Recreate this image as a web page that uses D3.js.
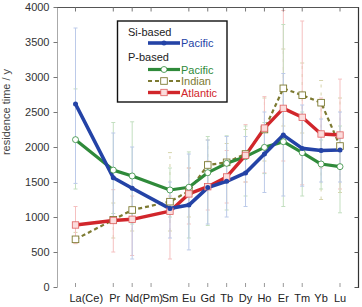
<!DOCTYPE html>
<html><head><meta charset="utf-8">
<script src="https://cdn.jsdelivr.net/npm/d3@7"></script>
<style>body{margin:0;background:#fff}svg{display:block;font-family:"Liberation Sans",Arial,sans-serif}</style>
</head><body><svg id="c" width="362" height="307"></svg>
<script>
const categories = ["La","Ce","Pr","Nd","Pm","Sm","Eu","Gd","Tb","Dy","Ho","Er","Tm","Yb","Lu"];
const catLabels = ["La","(Ce)","Pr","Nd","(Pm)","Sm","Eu","Gd","Tb","Dy","Ho","Er","Tm","Yb","Lu"];
const tickCats = ["La","Pr","Nd","Pm","Eu","Gd","Tb","Dy","Ho","Er","Tm","Lu"];
const yTicks = [0,500,1000,1500,2000,2500,3000,3500,4000];

// values (null = no data)
const siPacific   = [2615,null,1560,1410,null,1120,1170,1420,1510,1630,1900,2170,1980,1950,1957];
const pPacific    = [2105,null,1670,1586,null,1386,1425,1633,1767,1862,1995,2076,1919,1757,1719];
const pIndian     = [681,null,960,1100,null,1219,1370,1743,1781,1900,2250,2838,2740,2633,2014];
const pAtlantic   = [886,null,950,967,null,1083,1330,1433,1572,1880,2270,2552,2424,2186,2171];

// error bars [low, high]
const siPacificErr  = [[1480,3700],null,[1000,2200],[400,2000],null,[700,1500],[530,1900],[900,2100],[1000,2150],[1150,2150],[1350,2500],[1300,3050],[1440,2600],[1500,2400],[1500,2500]];
const pPacificErr   = [[1400,2830],null,[1050,2350],[900,2360],null,[1000,1700],[700,1930],[880,2150],[1100,2160],[1300,2300],[1620,2350],[1150,3750],[1300,2500],[1400,2100],[1060,2300]];
const pIndianErr    = [[620,780],null,[700,1200],[800,1400],null,[800,1920],[1000,1700],[1400,2100],[1500,2050],[1500,2250],[1800,2700],[2300,3400],[2200,3200],[1250,2950],[1350,2700]];
const pAtlanticErr  = [[620,1150],null,[500,1390],[450,1300],null,[400,1300],[900,1700],[1100,1800],[1200,1950],[1500,2320],[1630,2720],[1800,3950],[1460,3800],[1700,2700],[1400,2970]];

const series = [
  {name:"siPacific", vals:siPacific, err:siPacificErr, color:"#2443a6", errColor:"#bccae9", width:3.6, dash:null, marker:"circleFill", errDash:null},
  {name:"pPacific", vals:pPacific, err:pPacificErr, color:"#2f8a3a", errColor:"#c3dfc0", width:3.2, dash:null, marker:"circleOpen", errDash:null},
  {name:"pAtlantic", vals:pAtlantic, err:pAtlanticErr, color:"#d1262b", errColor:"#f5c0c0", width:3.4, dash:null, marker:"square", errDash:null},
  {name:"pIndian", vals:pIndian, err:pIndianErr, color:"#7d7a32", errColor:"#d6d4ac", width:2.2, dash:"4,3", marker:"squareOpen", errDash:"3,5"}
];

const svg = d3.select("#c");
const x = d3.scalePoint().domain(categories).range([75.5,340]);
const y = d3.scaleLinear().domain([0,4000]).range([287,7]);

// error bars first
const order = ["pIndian","pAtlantic","pPacific","siPacific"];
order.forEach(nm=>{
  const s = series.find(d=>d.name===nm);
  const g = svg.append("g");
  categories.forEach((c,i)=>{
    const e = s.err[i]; if(!e) return;
    const xx = x(c);
    g.append("line").attr("x1",xx).attr("x2",xx).attr("y1",y(e[0])).attr("y2",y(e[1]))
      .attr("stroke",s.errColor).attr("stroke-width",1).attr("stroke-dasharray",s.errDash);
    [e[0],e[1]].forEach(v=>g.append("line").attr("x1",xx-2).attr("x2",xx+2).attr("y1",y(v)).attr("y2",y(v))
      .attr("stroke",s.errColor).attr("stroke-width",1));
  });
});

// frame
svg.append("line").attr("x1",57.5).attr("x2",57.5).attr("y1",7).attr("y2",287).attr("stroke","#aaa").attr("stroke-width",1);
svg.append("line").attr("x1",57).attr("x2",358.5).attr("y1",7.5).attr("y2",7.5).attr("stroke","#555").attr("stroke-width",1);
svg.append("line").attr("x1",358.5).attr("x2",358.5).attr("y1",7).attr("y2",288).attr("stroke","#333").attr("stroke-width",1.2);

// left axis
const yAxis = d3.axisLeft(y).tickValues(yTicks).tickSize(4).tickPadding(4).tickFormat(d3.format("d"));
const ga = svg.append("g").attr("transform","translate(57.5,0)").call(yAxis);
ga.select(".domain").remove();
ga.selectAll(".tick line").attr("stroke","#777");
ga.selectAll("text").attr("font-size",11).attr("fill","#333");
// right inner ticks
const gr = svg.append("g").attr("transform","translate(358.5,0)").call(d3.axisLeft(y).tickValues(yTicks).tickSize(4).tickFormat(""));
gr.select(".domain").remove();
gr.selectAll(".tick line").attr("stroke","#555");

// bottom / top ticks
const gb = svg.append("g");
tickCats.forEach(c=>{
  gb.append("line").attr("x1",x(c)).attr("x2",x(c)).attr("y1",283).attr("y2",287).attr("stroke","#999");
  gb.append("line").attr("x1",x(c)).attr("x2",x(c)).attr("y1",7.5).attr("y2",11.5).attr("stroke","#777");
});
const labelShift = {"La":0,"Ce":-2,"Pr":1.5};
categories.forEach((c,i)=>{
  svg.append("text").attr("x",x(c)+(labelShift[c]||0)).attr("y",302).attr("text-anchor","middle").attr("font-size",11).attr("fill","#222").text(catLabels[i]);
});

// y label
svg.append("text").attr("transform","translate(10,112) rotate(-90)").attr("text-anchor","middle").attr("font-size",11).attr("fill","#444").text("residence time / y");

// lines
const lineGen = d3.line().defined(d=>d.v!=null).x(d=>x(d.c)).y(d=>y(d.v));
["pIndian","pPacific","pAtlantic","siPacific"].forEach(nm=>{
  const s = series.find(d=>d.name===nm);
  const pts = categories.map((c,i)=>({c:c,v:s.vals[i]})).filter(d=>d.v!=null);
  svg.append("path").datum(pts).attr("d",lineGen).attr("fill","none").attr("stroke",s.color)
    .attr("stroke-width",s.width).attr("stroke-dasharray",s.dash).attr("stroke-linejoin","round");
});
function marker(g,s,cx,cy){
  if(s.marker==="circleFill") g.append("circle").attr("cx",cx).attr("cy",cy).attr("r",2.5).attr("fill",s.color);
  else if(s.marker==="circleOpen") g.append("circle").attr("cx",cx).attr("cy",cy).attr("r",3).attr("fill","#fff").attr("stroke",s.color).attr("stroke-width",0.8);
  else if(s.marker==="square") g.append("rect").attr("x",cx-3.2).attr("y",cy-3.2).attr("width",6.4).attr("height",6.4).attr("fill","#fbdcdc").attr("stroke","#e06060").attr("stroke-width",0.8);
  else g.append("rect").attr("x",cx-3.3).attr("y",cy-3.3).attr("width",6.6).attr("height",6.6).attr("fill","#fff").attr("stroke",s.color).attr("stroke-width",0.9);
}
["pIndian","pPacific","pAtlantic","siPacific"].forEach(nm=>{
  const s = series.find(d=>d.name===nm);
  const g = svg.append("g");
  categories.forEach((c,i)=>{ if(s.vals[i]!=null) marker(g,s,x(c),y(s.vals[i])); });
});

// legend
const lg = svg.append("g");
lg.append("rect").attr("x",117.5).attr("y",21).attr("width",109.5).attr("height",81).attr("fill","#fff").attr("stroke","#111").attr("stroke-width",1.4);
lg.append("text").attr("x",128).attr("y",36).attr("font-size",11).attr("fill","#222").text("Si-based");
lg.append("text").attr("x",128).attr("y",61).attr("font-size",11).attr("fill","#222").text("P-based");
const legItems = [
  {name:"siPacific", label:"Pacific", yy:43},
  {name:"pPacific", label:"Pacific", yy:69.5},
  {name:"pIndian", label:"Indian", yy:81},
  {name:"pAtlantic", label:"Atlantic", yy:92.5}
];
legItems.forEach(it=>{
  const s = series.find(d=>d.name===it.name);
  lg.append("line").attr("x1",148).attr("x2",180).attr("y1",it.yy).attr("y2",it.yy).attr("stroke",s.color)
    .attr("stroke-width",s.width).attr("stroke-dasharray",s.dash);
  marker(lg,s,164,it.yy);
  lg.append("text").attr("x",181).attr("y",it.yy+4).attr("font-size",11).attr("fill",s.color).text(it.label);
});
</script></body></html>
